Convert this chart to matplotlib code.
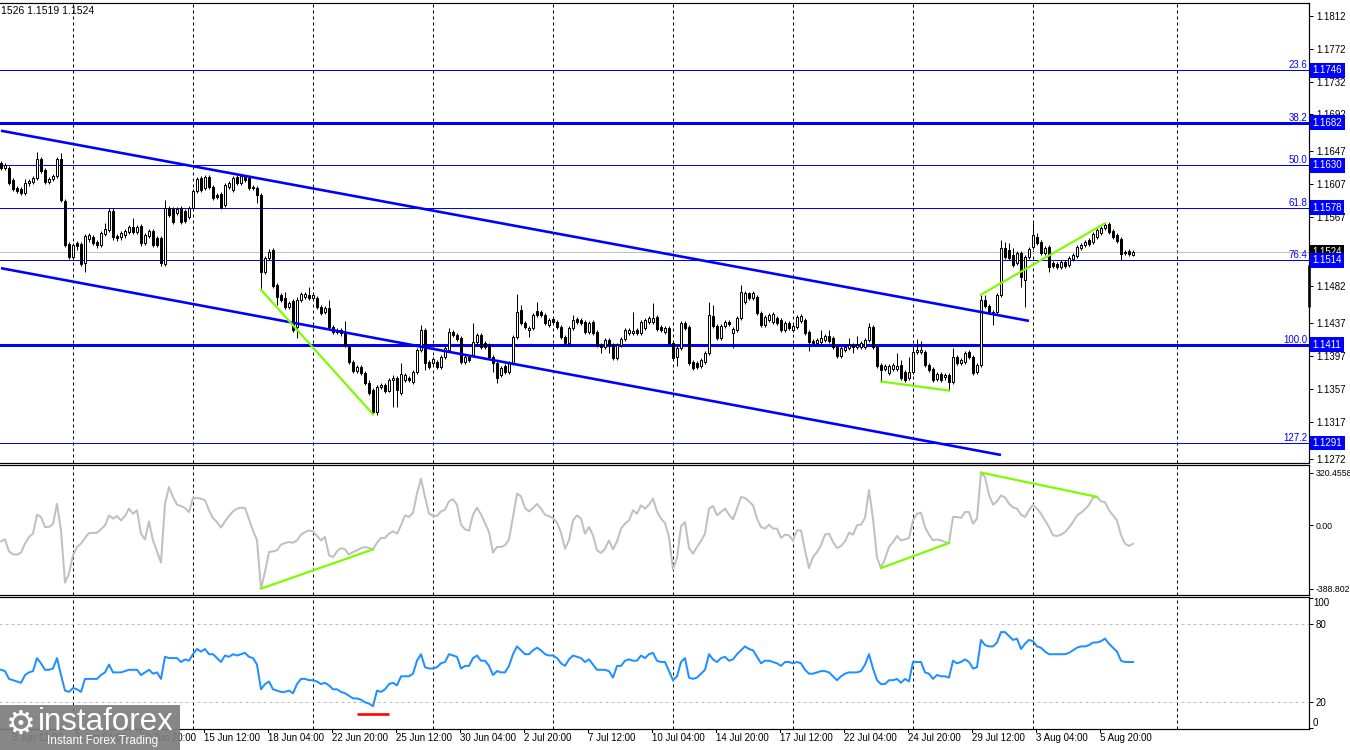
import matplotlib
matplotlib.use("Agg")
import matplotlib.pyplot as plt
from matplotlib.transforms import blended_transform_factory
from matplotlib.patches import Rectangle

plt.rcParams['font.family'] = ['Liberation Sans', 'DejaVu Sans']

# ---------------- data (4H candles) ----------------
bar_open = [1.1633,1.1627,1.1627,1.1612,1.1602,1.1601,1.1596,1.1608,1.1609,1.1614,1.1638,1.1624,1.1609,1.1613,1.1617,1.1638,1.1586,1.1534,1.1518,1.1535,
1.1534,1.1511,1.1540,1.1542,1.1536,1.1533,1.1546,1.1551,1.1574,1.1544,1.1542,1.1545,1.1548,1.1555,1.1548,1.1556,1.1535,1.1544,1.1550,1.1541,
1.1541,1.1509,1.1578,1.1576,1.1572,1.1578,1.1574,1.1567,1.1578,1.1598,1.1614,1.1602,1.1615,1.1603,1.1594,1.1595,1.1581,1.1603,1.1600,1.1615,
1.1608,1.1615,1.1614,1.1603,1.1602,1.1594,1.1500,1.1517,1.1526,1.1484,1.1472,1.1468,1.1457,1.1464,1.1433,1.1466,1.1469,1.1472,1.1468,1.1468,
1.1457,1.1451,1.1456,1.1433,1.1429,1.1429,1.1425,1.1408,1.1390,1.1379,1.1384,1.1376,1.1364,1.1356,1.1329,1.1359,1.1362,1.1355,1.1368,1.1370,
1.1352,1.1368,1.1370,1.1366,1.1378,1.1405,1.1429,1.1390,1.1389,1.1390,1.1384,1.1396,1.1405,1.1426,1.1423,1.1419,1.1390,1.1396,1.1398,1.1414,
1.1423,1.1413,1.1411,1.1396,1.1389,1.1374,1.1385,1.1378,1.1389,1.1420,1.1453,1.1437,1.1429,1.1431,1.1452,1.1451,1.1447,1.1435,1.1442,1.1439,
1.1433,1.1420,1.1413,1.1431,1.1442,1.1441,1.1439,1.1426,1.1439,1.1426,1.1411,1.1408,1.1417,1.1411,1.1395,1.1411,1.1418,1.1425,1.1425,1.1429,
1.1425,1.1431,1.1439,1.1439,1.1445,1.1433,1.1426,1.1431,1.1413,1.1396,1.1407,1.1437,1.1433,1.1390,1.1389,1.1385,1.1390,1.1401,1.1446,1.1434,
1.1419,1.1434,1.1439,1.1425,1.1429,1.1444,1.1463,1.1474,1.1468,1.1469,1.1450,1.1435,1.1441,1.1439,1.1444,1.1441,1.1429,1.1437,1.1429,1.1433,
1.1440,1.1441,1.1426,1.1416,1.1413,1.1414,1.1417,1.1422,1.1419,1.1408,1.1397,1.1405,1.1407,1.1411,1.1408,1.1408,1.1408,1.1417,1.1433,1.1408,
1.1386,1.1381,1.1376,1.1381,1.1381,1.1386,1.1378,1.1370,1.1378,1.1402,1.1402,1.1402,1.1386,1.1381,1.1369,1.1375,1.1372,1.1374,1.1366,1.1396,
1.1389,1.1390,1.1402,1.1396,1.1378,1.1386,1.1466,1.1458,1.1451,1.1451,1.1472,1.1529,1.1526,1.1520,1.1511,1.1523,1.1490,1.1518,1.1530,1.1542,
1.1536,1.1523,1.1530,1.1511,1.1509,1.1506,1.1512,1.1508,1.1516,1.1519,1.1529,1.1533,1.1539,1.1536,1.1542,1.1547,1.1553,1.1558,1.1550,1.1545,
1.1540,1.1524,1.1525,1.1520]
bar_high = [1.1635,1.1633,1.1629,1.1614,1.1605,1.1603,1.1613,1.1613,1.1617,1.1646,1.1640,1.1627,1.1616,1.1619,1.1640,1.1645,1.1589,1.1536,1.1535,1.1537,
1.1536,1.1546,1.1547,1.1545,1.1539,1.1550,1.1559,1.1578,1.1578,1.1546,1.1550,1.1552,1.1557,1.1566,1.1557,1.1558,1.1547,1.1552,1.1552,1.1544,
1.1544,1.1588,1.1580,1.1579,1.1579,1.1580,1.1576,1.1580,1.1601,1.1615,1.1617,1.1618,1.1618,1.1606,1.1596,1.1597,1.1608,1.1611,1.1617,1.1618,
1.1619,1.1618,1.1617,1.1606,1.1605,1.1596,1.1519,1.1528,1.1529,1.1486,1.1474,1.1475,1.1464,1.1467,1.1469,1.1475,1.1475,1.1481,1.1474,1.1470,
1.1459,1.1458,1.1466,1.1435,1.1431,1.1431,1.1440,1.1411,1.1392,1.1386,1.1386,1.1379,1.1368,1.1358,1.1362,1.1364,1.1364,1.1370,1.1374,1.1373,
1.1389,1.1376,1.1373,1.1380,1.1407,1.1435,1.1431,1.1392,1.1396,1.1392,1.1398,1.1409,1.1431,1.1429,1.1425,1.1422,1.1398,1.1398,1.1437,1.1425,
1.1425,1.1416,1.1413,1.1398,1.1391,1.1385,1.1387,1.1391,1.1423,1.1473,1.1459,1.1440,1.1434,1.1450,1.1463,1.1453,1.1450,1.1444,1.1445,1.1441,
1.1435,1.1423,1.1434,1.1447,1.1445,1.1444,1.1441,1.1440,1.1441,1.1429,1.1413,1.1419,1.1419,1.1413,1.1413,1.1420,1.1431,1.1431,1.1451,1.1431,
1.1441,1.1444,1.1446,1.1462,1.1447,1.1435,1.1434,1.1434,1.1416,1.1409,1.1440,1.1440,1.1435,1.1392,1.1391,1.1395,1.1403,1.1463,1.1459,1.1436,
1.1436,1.1441,1.1441,1.1433,1.1446,1.1484,1.1476,1.1475,1.1476,1.1472,1.1452,1.1447,1.1450,1.1451,1.1446,1.1444,1.1440,1.1440,1.1436,1.1447,
1.1448,1.1444,1.1429,1.1418,1.1419,1.1429,1.1424,1.1429,1.1422,1.1411,1.1409,1.1411,1.1419,1.1413,1.1422,1.1416,1.1419,1.1437,1.1435,1.1411,
1.1389,1.1387,1.1387,1.1389,1.1401,1.1392,1.1380,1.1396,1.1411,1.1418,1.1416,1.1405,1.1389,1.1384,1.1378,1.1378,1.1376,1.1376,1.1407,1.1398,
1.1395,1.1403,1.1405,1.1398,1.1389,1.1472,1.1472,1.1461,1.1453,1.1474,1.1539,1.1536,1.1535,1.1529,1.1525,1.1525,1.1520,1.1530,1.1559,1.1547,
1.1539,1.1531,1.1533,1.1513,1.1512,1.1514,1.1514,1.1519,1.1523,1.1533,1.1535,1.1539,1.1541,1.1548,1.1553,1.1556,1.1559,1.1561,1.1552,1.1547,
1.1542,1.1526,1.1528,1.1526]
bar_low = [1.1624,1.1624,1.1606,1.1598,1.1596,1.1594,1.1594,1.1605,1.1607,1.1612,1.1620,1.1607,1.1607,1.1611,1.1614,1.1585,1.1530,1.1516,1.1516,1.1526,
1.1507,1.1500,1.1536,1.1533,1.1529,1.1530,1.1544,1.1548,1.1539,1.1537,1.1539,1.1541,1.1546,1.1546,1.1546,1.1531,1.1533,1.1541,1.1530,1.1530,
1.1507,1.1507,1.1567,1.1558,1.1569,1.1558,1.1559,1.1564,1.1575,1.1596,1.1597,1.1600,1.1601,1.1587,1.1589,1.1576,1.1579,1.1601,1.1597,1.1606,
1.1606,1.1609,1.1600,1.1600,1.1584,1.1478,1.1497,1.1514,1.1480,1.1459,1.1463,1.1455,1.1455,1.1426,1.1419,1.1463,1.1467,1.1466,1.1466,1.1455,
1.1447,1.1448,1.1430,1.1424,1.1424,1.1422,1.1408,1.1387,1.1376,1.1376,1.1374,1.1362,1.1350,1.1326,1.1325,1.1357,1.1352,1.1353,1.1335,1.1335,
1.1350,1.1366,1.1366,1.1363,1.1375,1.1402,1.1380,1.1381,1.1386,1.1381,1.1381,1.1394,1.1402,1.1420,1.1416,1.1387,1.1387,1.1390,1.1396,1.1412,
1.1406,1.1406,1.1394,1.1378,1.1364,1.1372,1.1375,1.1375,1.1386,1.1418,1.1435,1.1430,1.1420,1.1429,1.1445,1.1445,1.1435,1.1433,1.1436,1.1430,
1.1418,1.1411,1.1411,1.1429,1.1436,1.1435,1.1424,1.1424,1.1423,1.1408,1.1401,1.1406,1.1401,1.1392,1.1392,1.1408,1.1416,1.1423,1.1423,1.1423,
1.1423,1.1429,1.1436,1.1436,1.1428,1.1426,1.1424,1.1411,1.1392,1.1385,1.1405,1.1429,1.1386,1.1380,1.1381,1.1383,1.1387,1.1398,1.1431,1.1417,
1.1417,1.1431,1.1434,1.1407,1.1426,1.1441,1.1461,1.1466,1.1466,1.1447,1.1433,1.1433,1.1439,1.1436,1.1435,1.1426,1.1426,1.1429,1.1426,1.1430,
1.1437,1.1423,1.1403,1.1411,1.1411,1.1412,1.1414,1.1413,1.1406,1.1395,1.1395,1.1402,1.1405,1.1401,1.1406,1.1406,1.1406,1.1414,1.1406,1.1383,
1.1366,1.1379,1.1374,1.1379,1.1379,1.1368,1.1366,1.1368,1.1375,1.1400,1.1400,1.1384,1.1378,1.1366,1.1367,1.1366,1.1368,1.1355,1.1363,1.1386,
1.1386,1.1387,1.1394,1.1374,1.1375,1.1384,1.1456,1.1448,1.1435,1.1448,1.1469,1.1516,1.1514,1.1506,1.1508,1.1481,1.1457,1.1516,1.1528,1.1533,
1.1520,1.1520,1.1500,1.1505,1.1503,1.1503,1.1505,1.1506,1.1513,1.1517,1.1526,1.1530,1.1531,1.1534,1.1540,1.1545,1.1551,1.1546,1.1540,1.1535,
1.1514,1.1520,1.1519,1.1519]
bar_close = [1.1627,1.1630,1.1608,1.1601,1.1598,1.1596,1.1608,1.1611,1.1614,1.1638,1.1623,1.1609,1.1613,1.1617,1.1638,1.1588,1.1533,1.1518,1.1533,1.1531,
1.1509,1.1544,1.1545,1.1535,1.1533,1.1547,1.1552,1.1574,1.1542,1.1541,1.1547,1.1550,1.1555,1.1548,1.1555,1.1535,1.1545,1.1550,1.1533,1.1533,
1.1511,1.1578,1.1569,1.1561,1.1576,1.1561,1.1562,1.1578,1.1598,1.1613,1.1600,1.1615,1.1603,1.1590,1.1591,1.1579,1.1606,1.1608,1.1614,1.1608,
1.1617,1.1612,1.1602,1.1602,1.1594,1.1500,1.1517,1.1524,1.1483,1.1469,1.1466,1.1457,1.1462,1.1429,1.1466,1.1473,1.1473,1.1468,1.1472,1.1457,
1.1450,1.1456,1.1433,1.1426,1.1426,1.1425,1.1411,1.1390,1.1379,1.1384,1.1376,1.1364,1.1352,1.1329,1.1359,1.1362,1.1355,1.1368,1.1370,1.1356,
1.1375,1.1374,1.1368,1.1378,1.1405,1.1429,1.1389,1.1384,1.1394,1.1384,1.1396,1.1407,1.1426,1.1423,1.1418,1.1390,1.1396,1.1392,1.1414,1.1423,
1.1408,1.1408,1.1396,1.1389,1.1370,1.1383,1.1378,1.1389,1.1420,1.1451,1.1437,1.1433,1.1431,1.1447,1.1447,1.1447,1.1437,1.1441,1.1439,1.1433,
1.1420,1.1413,1.1431,1.1441,1.1439,1.1437,1.1426,1.1437,1.1425,1.1411,1.1408,1.1417,1.1411,1.1395,1.1411,1.1418,1.1429,1.1429,1.1428,1.1425,
1.1439,1.1441,1.1444,1.1444,1.1430,1.1429,1.1431,1.1413,1.1395,1.1407,1.1437,1.1431,1.1389,1.1383,1.1384,1.1392,1.1401,1.1447,1.1434,1.1419,
1.1434,1.1439,1.1436,1.1430,1.1444,1.1475,1.1474,1.1468,1.1474,1.1450,1.1435,1.1445,1.1447,1.1448,1.1437,1.1429,1.1437,1.1431,1.1434,1.1445,
1.1446,1.1425,1.1414,1.1413,1.1417,1.1419,1.1422,1.1416,1.1408,1.1397,1.1407,1.1408,1.1411,1.1408,1.1411,1.1413,1.1417,1.1433,1.1408,1.1385,
1.1380,1.1385,1.1385,1.1386,1.1385,1.1370,1.1368,1.1378,1.1402,1.1405,1.1405,1.1386,1.1380,1.1368,1.1375,1.1368,1.1374,1.1366,1.1396,1.1389,
1.1392,1.1401,1.1396,1.1376,1.1386,1.1466,1.1458,1.1451,1.1450,1.1472,1.1529,1.1518,1.1517,1.1508,1.1523,1.1494,1.1518,1.1528,1.1545,1.1535,
1.1523,1.1529,1.1506,1.1507,1.1506,1.1512,1.1507,1.1517,1.1520,1.1530,1.1533,1.1536,1.1534,1.1546,1.1551,1.1553,1.1557,1.1548,1.1542,1.1537,
1.1522,1.1523,1.1522,1.1524]

cci_values = [-100,-88,-161,-179,-181,-169,-114,-73,-53,63,49,-12,-12,6,130,-33,-352,-297,-185,-134,
-114,-79,-49,-49,-47,-26,-2,59,39,55,28,55,100,69,90,-53,-88,22,-94,-161,
-230,130,232,171,124,116,104,79,165,165,161,151,90,43,18,-16,22,55,83,100,
106,104,35,-33,-94,-388.80,-287,-165,-161,-155,-120,-110,-104,-108,-94,-59,-43,-33,-39,-67,
-94,-73,-185,-196,-161,-141,-149,-181,-165,-155,-141,-134,-141,-149,-108,-79,-79,-53,-39,-53,
-2,59,49,75,192,283,171,69,55,55,83,94,145,157,124,2,-26,-35,63,106,
65,12,-43,-169,-134,-134,-124,-88,49,192,175,104,83,104,128,100,63,53,43,14,
-47,-145,-94,28,59,39,-53,-12,-63,-155,-171,-145,-94,-149,-100,-22,8,28,90,69,
120,100,124,161,83,39,12,-73,-271,-202,-8,18,-141,-175,-134,-98,-53,100,116,59,
79,100,63,35,100,171,165,145,120,39,-12,-22,2,-22,-22,-79,-59,-63,-94,-33,
-33,-155,-263,-196,-165,-124,-59,-53,-104,-141,-128,-100,-47,-59,-2,2,43,214,39,-200,
-263,-206,-134,-104,-67,-94,-88,-79,28,69,75,-12,-59,-94,-88,-94,-104,-110,49,49,
43,79,79,8,39,320.46,293,185,124,145,181,169,130,108,100,63,49,90,124,100,
69,28,-12,-63,-67,-59,-43,-16,18,59,75,96,124,167,172,145,139,90,59,28,
-63,-114,-128,-114]

rsi_values = [45,44,38,37,36,35,41,43,44,54,50,45,45,46,54,41,29,28,31,30,
28,38,38,38,38,41,43,49,43,43,43,44,45,45,45,41,43,45,42,43,
38,55,54,54,54,51,53,52,57,61,59,61,57,57,54,51,56,55,57,56,
57,58,55,54,49,30,34,36,30,29,28,28,29,27,34,38,38,37,37,36,
34,35,33,30,30,28,27,25,23,23,22,20,19,17,29,28,30,34,35,33,
40,40,40,42,52,57,47,46,46,47,50,51,57,56,55,46,48,48,54,56,
52,52,48,41,44,43,43,48,57,63,60,57,57,60,62,60,57,56,56,54,
50,48,53,56,55,54,51,53,49,45,45,45,44,39,48,48,52,53,52,52,
56,54,57,58,52,51,51,44,37,40,51,54,39,38,39,42,45,57,53,51,
54,55,52,53,57,60,63,61,60,55,50,52,52,51,50,48,51,51,50,51,
50,45,42,42,43,44,44,43,40,37,40,42,43,43,43,44,49,57,46,37,
34,34,37,37,38,35,38,36,51,51,51,43,42,38,41,40,40,39,52,50,
51,53,51,46,47,68,64,63,63,66,74,74,71,68,69,61,65,68,67,63,
62,59,57,57,57,57,57,58,60,62,63,63,64,66,66,67,69,65,62,59,
52,51,51,51]

fib_levels = [1.1746, 1.1682, 1.1630, 1.1578, 1.1514, 1.1411, 1.1291]
fib_names = ["23.6", "38.2", "50.0", "61.8", "76.4", "100.0", "127.2"]
fib_label_text = ["1.1746", "1.1682", "1.1630", "1.1578", "1.1514", "1.1411", "1.1291"]
fib_line_px = [1, 3, 1, 1, 1, 3, 1]

price_ticks = [1.1812, 1.1772, 1.1732, 1.1692, 1.1647, 1.1607, 1.1567,
               1.1482, 1.1437, 1.1397, 1.1357, 1.1317, 1.1272]
bid_price = 1.1524

# trend lines: (bar, price) endpoints
channel_upper = [(0, 1.16720), (257, 1.14400)]
channel_lower = [(0, 1.15043), (250, 1.12764)]
green_price = [[(65, 1.1478), (93, 1.1326)],
               [(220, 1.1366), (237, 1.1355)],
               [(245, 1.1472), (276, 1.1559)]]
green_cci = [[(65, -388.80), (93, -149)],
             [(220, -263), (237, -110)],
             [(245, 320.46), (274, 172)]]
red_rsi = [(89, 11.2), (97, 11.2)]

cci_ticks = [320.4558, 0.0, -388.8026]
cci_tick_text = ["320.4558", "0.00", "-388.8026"]
rsi_levels = [20, 80]

date_bars = [3, 19, 35, 51, 67, 83, 99, 115, 131, 147, 163, 179, 195, 211, 227, 243, 259, 275]
date_text = ["3 Jun 12:00", "8 Jun 04:00", "10 Jun 20:00", "15 Jun 12:00",
             "18 Jun 04:00", "22 Jun 20:00", "25 Jun 12:00", "30 Jun 04:00", "2 Jul 20:00",
             "7 Jul 12:00", "10 Jul 04:00", "14 Jul 20:00", "17 Jul 12:00", "22 Jul 04:00",
             "24 Jul 20:00", "29 Jul 12:00", "3 Aug 04:00", "5 Aug 20:00"]
separator_bars = [18, 48, 78, 108, 138, 168, 198, 228, 258, 294]

# ---------------- figure ----------------
W, H = 1350, 750
PX = 0.72  # points per pixel at dpi 100
FS = 7

fig = plt.figure(figsize=(W / 100, H / 100), dpi=100)
fig.patch.set_facecolor('white')


def rect(x0, y0, x1, y1):
    return [x0 / W, 1 - y1 / H, (x1 - x0) / W, (y1 - y0) / H]


ax_p = fig.add_axes(rect(-1, 2.7, 1309, 463))
ax_c = fig.add_axes(rect(-1, 465.3, 1309, 595.3))
ax_r = fig.add_axes(rect(-1, 597, 1309, 729))

XL = (-0.5, 327.0)
for ax in (ax_p, ax_c, ax_r):
    ax.set_xlim(*XL)
    ax.set_facecolor('white')
    ax.spines['left'].set_visible(False)
    for s in ('top', 'right', 'bottom'):
        ax.spines[s].set_color('black')
        ax.spines[s].set_linewidth(1.2 * PX)
    ax.tick_params(axis='y', left=False, labelleft=False, right=True, labelright=True,
                   length=3, width=PX, pad=2, labelsize=FS, colors='black')
    ax.tick_params(axis='x', bottom=False, labelbottom=False)
    for b in separator_bars:
        ax.axvline(b, color='black', lw=PX, ls=(0, (3, 3)), zorder=1)

ax_p.set_ylim(1.12666, 1.18282)
ax_c.set_ylim(-429.5, 364.8)
ax_r.set_ylim(-0.54, 101.0)

# price panel ticks
ax_p.set_yticks(price_ticks)
ax_p.set_yticklabels([f"{t:.4f}" for t in price_ticks])

# fibonacci levels
tr_p = blended_transform_factory(ax_p.transAxes, ax_p.transData)
for lvl, name, txt, lw in zip(fib_levels, fib_names, fib_label_text, fib_line_px):
    ax_p.axhline(lvl, color='#0000FF', lw=lw * PX, zorder=2)
    ax_p.text(0.9985, lvl, name, transform=tr_p, ha='right', va='bottom',
              color='#0000FF', fontsize=FS, zorder=6)

# bid line
ax_p.axhline(bid_price, color='#C0C0C0', lw=PX, zorder=1.5)
ax_p.annotate(f"{bid_price:.4f}", xy=(1, bid_price), xycoords=tr_p, xytext=(2.5, 0),
              textcoords='offset points', ha='left', va='center', color='white', fontsize=FS,
              bbox=dict(boxstyle='square,pad=0.25', fc='black', ec='none'), zorder=9,
              annotation_clip=False)
for lvl, txt in zip(fib_levels, fib_label_text):
    ax_p.annotate(txt, xy=(1, lvl), xycoords=tr_p, xytext=(2.5, 0),
                  textcoords='offset points', ha='left', va='center', color='white',
                  fontsize=FS, bbox=dict(boxstyle='square,pad=0.25', fc='#0000FF', ec='none'),
                  zorder=10, annotation_clip=False)

# candles
idx = list(range(len(bar_close)))
ax_p.vlines(idx, bar_low, bar_high, color='black', lw=PX, zorder=3)
body_h = [c - o for o, c in zip(bar_open, bar_close)]
body_fc = ['white' if c >= o else 'black' for o, c in zip(bar_open, bar_close)]
ax_p.bar(idx, body_h, bottom=bar_open, width=0.62, color=body_fc, edgecolor='black',
         linewidth=PX, zorder=4)

# channel lines
for line in (channel_upper, channel_lower):
    ax_p.plot([p[0] for p in line], [p[1] for p in line], color='#0000FF', lw=2.6 * PX,
              zorder=5, solid_capstyle='butt')
# green lines (price)
for line in green_price:
    ax_p.plot([p[0] for p in line], [p[1] for p in line], color='#7CFC00', lw=2.2 * PX, zorder=5)

# black marker on the price scale
ax_p.plot([XL[1], XL[1]], [1.15082, 1.14570], color='black', lw=2.6 * PX, clip_on=False,
          solid_capstyle='butt', zorder=8)

# top-left text
fig.text(1 / W, 1 - 10.5 / H, "1526 1.1519 1.1524", ha='left', va='center', fontsize=7.5,
         color='black')

# ---------------- CCI panel ----------------
ax_c.plot(idx, cci_values, color='#C0C0C0', lw=2 * PX, zorder=3)
for line in green_cci:
    ax_c.plot([p[0] for p in line], [p[1] for p in line], color='#7CFC00', lw=2.2 * PX, zorder=4)
ax_c.set_yticks(cci_ticks)
ax_c.set_yticklabels(cci_tick_text)
ax_c.tick_params(axis='y', labelsize=6.3, pad=1.5)

# ---------------- RSI panel ----------------
for lv in rsi_levels:
    ax_r.axhline(lv, color='#C0C0C0', lw=PX, ls=(0, (3, 3)), zorder=1)
ax_r.plot(idx, rsi_values, color='#1E90FF', lw=2 * PX, zorder=3)
ax_r.plot([p[0] for p in red_rsi], [p[1] for p in red_rsi], color='#FF0000', lw=2.6 * PX,
          zorder=4, solid_capstyle='butt')
ax_r.set_yticks([100, 80, 20, 0])
ax_r.set_yticklabels(["", "80", "20", ""])
tr_r = blended_transform_factory(ax_r.transAxes, ax_r.transData)
ax_r.text(1.003, 100, "100", transform=tr_r, ha='left', va='top', fontsize=FS)
ax_r.text(1.003, 0, "0", transform=tr_r, ha='left', va='bottom', fontsize=FS)

# date labels
tr_d = blended_transform_factory(ax_r.transData, ax_r.transAxes)
for b, t in zip(date_bars, date_text):
    ax_r.annotate(t, xy=(b - 0.25, 0), xycoords=tr_d, xytext=(0, -3),
                  textcoords='offset points', ha='left', va='top', fontsize=FS,
                  color='black', annotation_clip=False)
    ax_r.plot([b - 0.25, b - 0.25], [0, -0.02], transform=tr_d, color='black', lw=PX,
              clip_on=False)

# ---------------- watermark ----------------
fig.patches.append(Rectangle((0, 0), 180 / W, 45 / H, transform=fig.transFigure,
                             facecolor='#7d7d7d', edgecolor='none', alpha=0.92, zorder=20))
fig.text(6 / W, 1 - 724 / H, "\u2699", ha='left', va='center', fontsize=24, color='white',
         family=['DejaVu Sans'], zorder=21)
fig.text(38 / W, 1 - 722 / H, "instaforex", ha='left', va='center', fontsize=22.5,
         color='white', family=['Liberation Sans', 'DejaVu Sans'], zorder=21)
fig.text(47 / W, 1 - 741 / H, "Instant Forex Trading", ha='left', va='center', fontsize=8.5,
         color='white', family=['Liberation Sans', 'DejaVu Sans'], zorder=21)

fig.savefig("out.png", dpi=100, facecolor='white')
